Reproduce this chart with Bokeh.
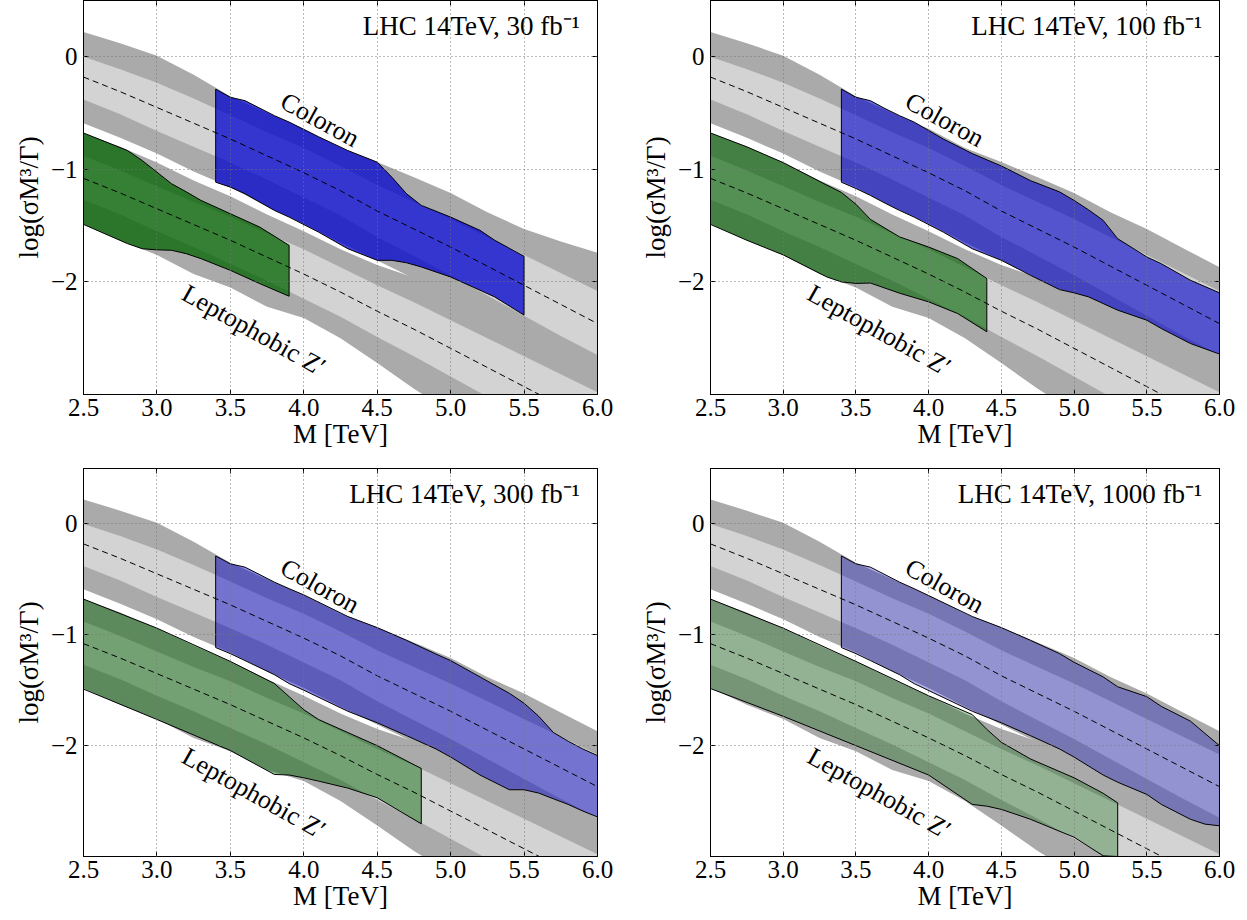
from bokeh.plotting import figure
from bokeh.layouts import column, row
from bokeh.models import Range1d, LinearAxis, FixedTicker, CustomJSTickFormatter
from bokeh.embed import file_html
from bokeh.resources import INLINE
from bokeh.core.properties import value

# ---------------- data ----------------
MASS = [2.5, 2.75, 3.0, 3.25, 3.5, 3.75, 4.0, 4.25, 4.5, 4.75, 5.0, 5.25, 5.5, 5.75, 6.0]

# Coloron prediction band
COL_CENTER = [-0.18, -0.31, -0.45, -0.59, -0.73, -0.88, -1.03, -1.19, -1.37, -1.53, -1.69, -1.86, -2.03, -2.20, -2.37]
COL_LIGHT_HI = [0.0, -0.11, -0.23, -0.37, -0.52, -0.67, -0.81, -0.97, -1.14, -1.29, -1.44, -1.60, -1.76, -1.92, -2.08]
COL_LIGHT_LO = [-0.38, -0.51, -0.66, -0.80, -0.94, -1.09, -1.25, -1.41, -1.60, -1.77, -1.94, -2.12, -2.30, -2.48, -2.65]
COL_DARK_HI = [0.22, 0.12, 0.01, -0.16, -0.35, -0.50, -0.64, -0.81, -0.935, -1.07, -1.21, -1.38, -1.53, -1.70, -1.87]
COL_DARK_HI_30 = [0.22, 0.12, 0.01, -0.16, -0.35, -0.50, -0.64, -0.81, -0.935, -1.07, -1.21, -1.38, -1.53, -1.64, -1.74]
COL_DARK_LO = [-0.59, -0.72, -0.86, -1.02, -1.16, -1.33, -1.48, -1.65, -1.81, -1.97, -2.10, -2.29, -2.48, -2.66, -2.85]

# Leptophobic Z' prediction band
ZP_CENTER = [-1.08, -1.21, -1.35, -1.49, -1.63, -1.78, -1.93, -2.09, -2.26, -2.42, -2.59, -2.76, -2.93, -3.10, -3.27]
ZP_LIGHT_HI = [-0.88, -1.01, -1.15, -1.29, -1.42, -1.57, -1.71, -1.87, -2.03, -2.18, -2.34, -2.50, -2.66, -2.82, -2.98]
ZP_LIGHT_LO = [-1.27, -1.40, -1.55, -1.69, -1.84, -1.99, -2.15, -2.31, -2.49, -2.66, -2.84, -3.02, -3.20, -3.38, -3.56]
ZP_DARK_HI = [-0.68, -0.80, -0.94, -1.10, -1.24, -1.40, -1.55, -1.71, -1.85, -1.96, -2.09, -2.27, -2.45, -2.62, -2.78]
ZP_DARK_LO = [-1.48, -1.63, -1.76, -1.93, -2.05, -2.22, -2.32, -2.50, -2.72, -2.95, -3.15, -3.35, -3.55, -3.75, -3.95]

# Reach regions, 30 fb^-1
COL30_X = [3.4, 3.5, 3.6, 3.8, 3.9, 4.1, 4.3, 4.5, 4.6, 4.7, 4.8, 5.0, 5.2, 5.3, 5.5]
COL30_TOP = [-0.287, -0.36, -0.39, -0.523, -0.58, -0.71, -0.833, -0.936, -1.07, -1.217, -1.32, -1.424, -1.542, -1.63, -1.772]
COL30_BOT = [-1.114, -1.158, -1.217, -1.365, -1.424, -1.557, -1.705, -1.808, -1.808, -1.83, -1.867, -1.956, -2.074, -2.133, -2.295]
ZP30_X = [2.5, 2.8, 2.9, 3.0, 3.1, 3.2, 3.3, 3.5, 3.7, 3.9]
ZP30_TOP = [-0.677, -0.833, -0.922, -1.025, -1.128, -1.2, -1.276, -1.394, -1.513, -1.675]
ZP30_BOT = [-1.489, -1.66, -1.705, -1.715, -1.719, -1.749, -1.793, -1.897, -2.015, -2.127]

# 100 fb^-1
COL100_X = [3.4, 3.5, 3.6, 3.7, 3.8, 3.9, 4.1, 4.3, 4.5, 4.7, 4.9, 5.0, 5.1, 5.2, 5.3, 5.5, 5.6, 5.8, 6.0]
COL100_TOP = [-0.287, -0.36, -0.39, -0.46, -0.523, -0.58, -0.73, -0.86, -0.97, -1.10, -1.2, -1.276, -1.36, -1.453, -1.616, -1.778, -1.838, -1.985, -2.097]
COL100_BOT = [-1.114, -1.17, -1.232, -1.30, -1.365, -1.424, -1.557, -1.705, -1.808, -1.941, -2.068, -2.097, -2.133, -2.192, -2.251, -2.34, -2.414, -2.547, -2.641]
ZP100_X = [2.5, 2.75, 3.0, 3.3, 3.4, 3.5, 3.6, 3.8, 4.0, 4.2, 4.4]
ZP100_TOP = [-0.677, -0.80, -0.94, -1.14, -1.205, -1.31, -1.445, -1.60, -1.69, -1.793, -1.97]
ZP100_BOT = [-1.489, -1.63, -1.76, -1.956, -2.0, -2.013, -2.01, -2.10, -2.177, -2.281, -2.443]

# 300 fb^-1
COL300_X = [3.4, 3.5, 3.6, 3.8, 3.9, 4.0, 4.3, 4.5, 4.7, 4.9, 5.0, 5.2, 5.4, 5.5, 5.6, 5.7, 5.8, 5.9, 6.0]
COL300_TOP = [-0.289, -0.36, -0.39, -0.525, -0.584, -0.64, -0.835, -0.935, -1.05, -1.174, -1.233, -1.38, -1.528, -1.617, -1.735, -1.882, -1.96, -2.03, -2.09]
COL300_BOT = [-1.115, -1.17, -1.233, -1.36, -1.44, -1.50, -1.69, -1.794, -1.91, -2.03, -2.103, -2.265, -2.398, -2.398, -2.428, -2.48, -2.53, -2.59, -2.643]
ZP300_X = [2.5, 3.0, 3.5, 3.8, 3.9, 4.0, 4.1, 4.3, 4.5, 4.8]
ZP300_TOP = [-0.678, -0.94, -1.24, -1.44, -1.558, -1.676, -1.764, -1.882, -2.0, -2.206]
ZP300_BOT = [-1.49, -1.764, -2.044, -2.26, -2.265, -2.29, -2.32, -2.383, -2.47, -2.705]

# 1000 fb^-1
COL1000_X = [3.4, 3.5, 3.6, 3.8, 3.9, 4.3, 4.5, 4.7, 4.9, 5.0, 5.2, 5.3, 5.5, 5.6, 5.8, 5.9, 6.0]
COL1000_TOP = [-0.289, -0.36, -0.39, -0.525, -0.584, -0.835, -0.935, -1.05, -1.17, -1.248, -1.38, -1.469, -1.558, -1.646, -1.779, -1.89, -2.0]
COL1000_BOT = [-1.115, -1.17, -1.233, -1.36, -1.44, -1.69, -1.794, -1.91, -2.03, -2.103, -2.265, -2.33, -2.44, -2.53, -2.664, -2.708, -2.723]
ZP1000_X = [2.5, 3.0, 3.5, 4.0, 4.3, 4.4, 4.5, 4.7, 5.0, 5.2, 5.3]
ZP1000_TOP = [-0.678, -0.94, -1.24, -1.55, -1.72, -1.853, -1.97, -2.12, -2.29, -2.43, -2.516]
ZP1000_BOT = [-1.485, -1.735, -2.0, -2.265, -2.53, -2.546, -2.575, -2.664, -2.826, -2.994, -3.0]

LUMI_LABELS = ["LHC 14TeV, 30 fb\u207b\u00b9", "LHC 14TeV, 100 fb\u207b\u00b9",
               "LHC 14TeV, 300 fb\u207b\u00b9", "LHC 14TeV, 1000 fb\u207b\u00b9"]
REGION_ALPHA = [0.75, 0.6, 0.45, 0.3]

X_TICKS = [2.5, 3.0, 3.5, 4.0, 4.5, 5.0, 5.5, 6.0]
Y_TICKS = [-2, -1, 0]

# ---------------- styling ----------------
FONT = "Liberation Serif"
DARK = "#aaaaaa"
LIGHT = "#d3d3d3"
BLUE = "#0000cd"
GREEN = "#006400"


def polygon(xs, top, bot):
    return list(xs) + list(reversed(xs)), list(top) + list(reversed(bot))


def make_panel(idx, col_dark_hi, col_region, zp_region, geom):
    width, height, bl, br, bt, bb = geom
    p = figure(width=width, height=height, x_range=Range1d(2.5, 6.0), y_range=Range1d(-3.0, 0.5),
               output_backend="svg", toolbar_location=None, tools="",
               min_border_left=bl, min_border_right=br, min_border_top=bt, min_border_bottom=bb)
    p.background_fill_color = "white"
    p.border_fill_color = "white"
    p.outline_line_color = "black"
    p.outline_line_width = 1

    # gray bands
    p.varea(x=MASS, y1=COL_DARK_LO, y2=col_dark_hi, fill_color=DARK)
    p.varea(x=MASS, y1=COL_LIGHT_LO, y2=COL_LIGHT_HI, fill_color=LIGHT)
    p.varea(x=MASS, y1=ZP_DARK_LO, y2=ZP_DARK_HI, fill_color=DARK)
    p.varea(x=MASS, y1=ZP_LIGHT_LO, y2=ZP_LIGHT_HI, fill_color=LIGHT)

    a = REGION_ALPHA[idx]
    xs, ys = polygon(*col_region)
    p.patch(xs, ys, fill_color=BLUE, fill_alpha=a, line_color="black", line_width=1)
    xs, ys = polygon(*zp_region)
    p.patch(xs, ys, fill_color=GREEN, fill_alpha=a, line_color="black", line_width=1)

    p.line(MASS, COL_CENTER, line_color="black", line_width=1, line_dash="6 4")
    p.line(MASS, ZP_CENTER, line_color="black", line_width=1, line_dash="6 4")

    # annotations
    p.text(x=[5.88], y=[0.27], text=[LUMI_LABELS[idx]], text_align="right", text_baseline="alphabetic",
           text_font=value(FONT), text_font_size="27px", text_color="black")
    p.text(x=[4.11], y=[-0.56], text=["Coloron"], angle=-0.50, text_align="center", text_baseline="middle",
           text_font=value(FONT), text_font_size="26px", text_color="black")
    p.text(x=[3.66], y=[-2.43], text=["Leptophobic Z\u2032"], angle=-0.51, text_align="center",
           text_baseline="middle", text_font=value(FONT), text_font_size="26px", text_color="black")

    xfmt = CustomJSTickFormatter(code="return tick.toFixed(1);")
    yfmt = CustomJSTickFormatter(code="return tick == 0 ? '0' : (tick < 0 ? '\\u2212' + Math.abs(tick) : '' + tick);")
    blank = CustomJSTickFormatter(code="return '';")

    for ax in p.xaxis:
        ax.ticker = FixedTicker(ticks=X_TICKS)
        ax.formatter = xfmt
        ax.axis_label = "M [TeV]"
    for ax in p.yaxis:
        ax.ticker = FixedTicker(ticks=Y_TICKS)
        ax.formatter = yfmt
        ax.axis_label = "log(\u03c3M\u00b3/\u0393)"
    p.add_layout(LinearAxis(ticker=FixedTicker(ticks=X_TICKS), formatter=blank), "above")
    p.add_layout(LinearAxis(ticker=FixedTicker(ticks=Y_TICKS), formatter=blank), "right")

    for ax in p.axis:
        ax.axis_line_color = "black"
        ax.major_tick_in = 5
        ax.major_tick_out = 0
        ax.major_tick_line_color = "black"
        ax.minor_tick_line_color = None
        ax.major_label_text_font = FONT
        ax.major_label_text_font_size = "25px"
        ax.major_label_text_color = "black"
        ax.axis_label_text_font = FONT
        ax.axis_label_text_font_size = "27px"
        ax.axis_label_text_font_style = "normal"
        ax.axis_label_text_color = "black"
        ax.major_label_standoff = 6
        ax.axis_label_standoff = 4
    for ax in p.xaxis:
        ax.major_label_standoff = 4
        ax.axis_label_standoff = 0
    for ax in p.above + p.right:
        ax.major_label_standoff = 0
        ax.axis_label_standoff = 0

    for g in (p.xgrid, p.ygrid):
        g.grid_line_color = "#777777"
        g.grid_line_dash = "1 3"
        g.grid_line_width = 1
        g.level = "overlay"
    p.xgrid.ticker = FixedTicker(ticks=X_TICKS)
    p.ygrid.ticker = FixedTicker(ticks=Y_TICKS)
    return p


G_TL = (625, 468, 83, 28, 0, 74)
G_TR = (614, 468, 85, 20, 0, 74)
G_BL = (625, 445, 83, 28, 0, 50)
G_BR = (614, 445, 85, 20, 0, 50)

p1 = make_panel(0, COL_DARK_HI_30, (COL30_X, COL30_TOP, COL30_BOT), (ZP30_X, ZP30_TOP, ZP30_BOT), G_TL)
p2 = make_panel(1, COL_DARK_HI, (COL100_X, COL100_TOP, COL100_BOT), (ZP100_X, ZP100_TOP, ZP100_BOT), G_TR)
p3 = make_panel(2, COL_DARK_HI, (COL300_X, COL300_TOP, COL300_BOT), (ZP300_X, ZP300_TOP, ZP300_BOT), G_BL)
p4 = make_panel(3, COL_DARK_HI, (COL1000_X, COL1000_TOP, COL1000_BOT), (ZP1000_X, ZP1000_TOP, ZP1000_BOT), G_BR)

layout = column(row(p1, p2), row(p3, p4))
open("out.html", "w").write(file_html(layout, INLINE))
